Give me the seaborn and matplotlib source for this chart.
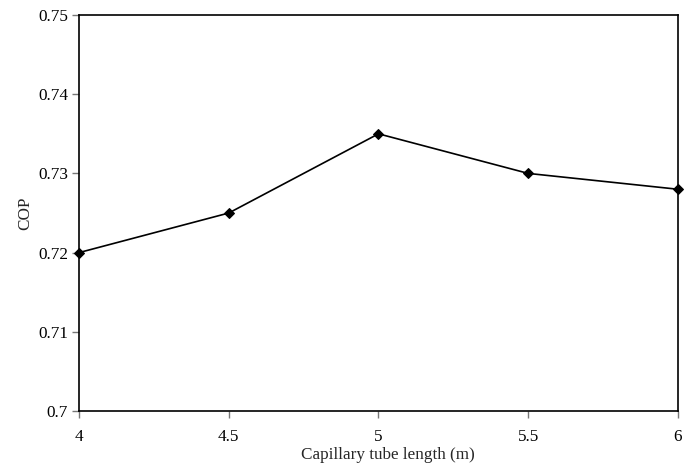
import matplotlib
matplotlib.use("Agg")
import matplotlib.pyplot as plt
import seaborn as sns
import pandas as pd

# Capillary tube length vs coefficient of performance
tube_length = [4, 4.5, 5, 5.5, 6]
cop = [0.720, 0.725, 0.735, 0.730, 0.728]
y_ticks = [0.70, 0.71, 0.72, 0.73, 0.74, 0.75]
y_labels = ["0.7", "0.71", "0.72", "0.73", "0.74", "0.75"]
x_labels = ["4", "4.5", "5", "5.5", "6"]

df = pd.DataFrame({"length": tube_length, "cop": cop})

sns.set_style("white")
plt.rcParams["font.family"] = ["Liberation Serif", "DejaVu Serif"]

fig = plt.figure(figsize=(6.9, 4.65), dpi=100)
ax = fig.add_axes([0.1145, 0.1161, 0.8681, 0.8516])

sns.lineplot(data=df, x="length", y="cop", ax=ax, color="black", linewidth=1.2,
             marker="D", markersize=5.5, markeredgecolor="black", clip_on=False)

ax.set_xlim(4, 6)
ax.set_ylim(0.70, 0.75)
ax.set_xticks(tube_length)
ax.set_xticklabels(x_labels)
ax.set_yticks(y_ticks)
ax.set_yticklabels(y_labels)
ax.tick_params(axis="both", direction="out", length=5, width=1, color="#777777",
               labelsize=12.3, labelcolor="black", pad=3, bottom=True, left=True)
ax.tick_params(axis="x", pad=8)
for s in ax.spines.values():
    s.set_color("black")
    s.set_linewidth(1.2)
    s.set_visible(True)

ax.set_xlabel("Capillary tube length (m)", fontsize=12.3)
ax.xaxis.set_label_coords(0.516, -0.09)
ax.set_ylabel("COP", fontsize=12.3, labelpad=3)

fig.savefig("out.png", dpi=100)
